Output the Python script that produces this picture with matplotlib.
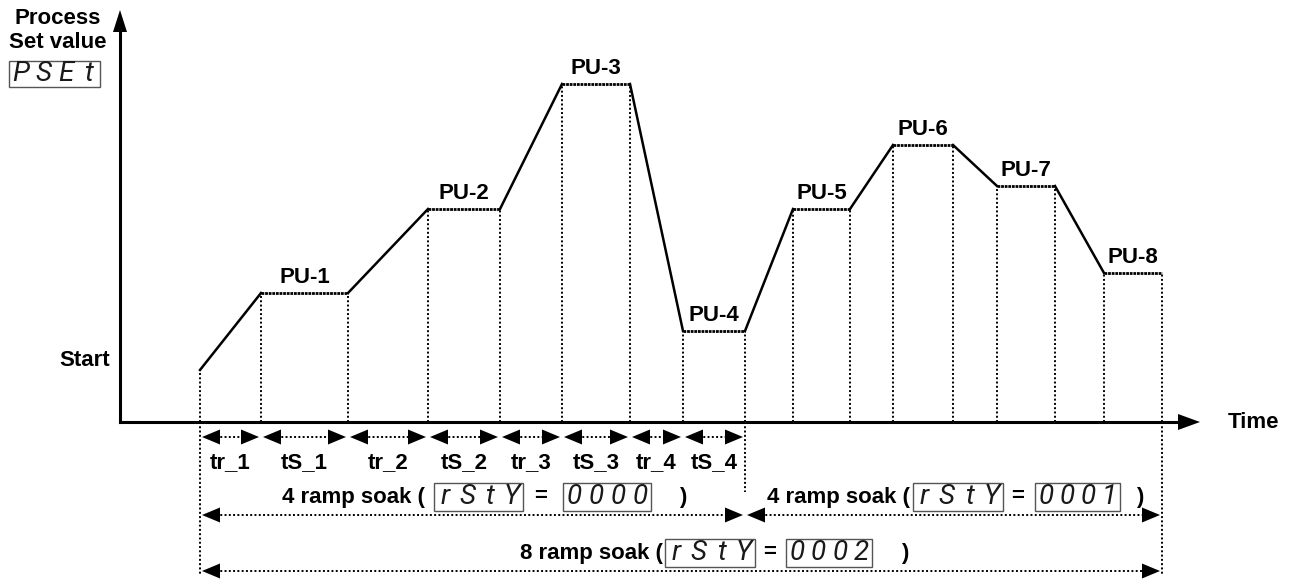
import matplotlib
matplotlib.use('Agg')
import matplotlib.pyplot as plt
from matplotlib.patches import Polygon, Rectangle

plt.rcParams['font.family'] = ['Liberation Sans', 'DejaVu Sans']

# ramp/soak profile, time and value measured from the axes corner
t_start = 80
v_start = 52
ramp_end = [141, 308, 442, 563, 673, 773, 877, 984]
soak_end = [228, 380, 510, 625, 730, 833, 935, 1042]
pu_value = [129, 213, 338, 91, 213, 277, 236, 149]
pu_labels = ['PU-1', 'PU-2', 'PU-3', 'PU-4', 'PU-5', 'PU-6', 'PU-7', 'PU-8']
seg_labels = ['tr_1', 'tS_1', 'tr_2', 'tS_2', 'tr_3', 'tS_3', 'tr_4', 'tS_4']
group_labels = ['4 ramp soak (', '4 ramp soak (', '8 ramp soak (']
rsty_codes = ['0000', '0001', '0002']

DOT = (0, (1, 1.2))
SEG = dict(family=['Roboto', 'DejaVu Sans'], style='italic',
           color='#1a1a1a', fontsize=20)
BOLD = dict(fontweight='bold', fontsize=16)

fig = plt.figure(figsize=(12.98, 5.8), dpi=100)
ax = fig.add_axes([0, 0, 1, 1])
ax.set_xlim(-120, 1178)
ax.set_ylim(-158, 422)
ax.axis('off')


def px(x):
    return x - 120


def py(y):
    return 422 - y


def head(x, y, dx, dy, length=18, half=7.5):
    # filled triangle, tip at (x, y), pointing along (dx, dy)
    bx, by = x - dx * length, y - dy * length
    pts = [(x, y), (bx - dy * half, by + dx * half), (bx + dy * half, by - dx * half)]
    ax.add_patch(Polygon(pts, closed=True, facecolor='k', edgecolor='none', zorder=3))


def dbl_arrow(x0, x1, y, gap=2):
    ax.plot([x0 + gap + 14, x1 - gap - 14], [y, y], color='k', lw=1.4, ls=DOT)
    head(x0 + gap, y, -1, 0)
    head(x1 - gap, y, 1, 0)


def display(x0, x1, yc, code, h=28):
    ax.add_patch(Rectangle((x0, yc - h / 2), x1 - x0, h, fill=False,
                           edgecolor='#555555', lw=1.0))
    w = (x1 - x0) / len(code)
    for i, ch in enumerate(code):
        ax.text(x0 + (i + 0.5) * w, yc, ch, ha='center', va='center', **SEG)


# axes
ax.plot([0, 1062], [0, 0], color='k', lw=2.2)
head(1080, 0, 1, 0, length=22, half=8)
ax.plot([0, 0], [0, 395], color='k', lw=2.2)
head(0, 412, 0, 1, length=22, half=7)

# profile
xs, ys = [t_start], [v_start]
for r, s, v in zip(ramp_end, soak_end, pu_value):
    ax.plot([xs[-1], r], [ys[-1], v], color='k', lw=1.8)
    ax.plot([r, s], [v, v], color='k', lw=2.0, ls=(0, (1, 0.3)))
    xs += [r, s]
    ys += [v, v]

# vertical guides
for x, y in zip(xs, ys):
    ax.plot([x, x], [0, y], color='k', lw=1.4, ls=DOT)
for x, y in [(t_start, -153), (soak_end[3], -70), (soak_end[7], -153)]:
    ax.plot([x, x], [0, y], color='k', lw=1.4, ls=DOT)

# PU labels
for r, s, v, lab in zip(ramp_end, soak_end, pu_value, pu_labels):
    ax.text((r + s) / 2, v + 5, lab, ha='center', va='bottom', **BOLD)

# segment arrows
bounds = [t_start]
for r, s in zip(ramp_end[:4], soak_end[:4]):
    bounds += [r, s]
for i, lab in enumerate(seg_labels):
    dbl_arrow(bounds[i], bounds[i + 1], py(437))
    ax.text((bounds[i] + bounds[i + 1]) / 2, py(463), lab, ha='center', va='center', **BOLD)

# ramp soak groups
dbl_arrow(t_start, soak_end[3], py(515))
dbl_arrow(soak_end[3], soak_end[7], py(515))
dbl_arrow(t_start, soak_end[7], py(571))

layout = [  # text right edge, box1, '=', box2, ')', y
    (425, (434, 523), 541, (563, 651), 683, 497),
    (910, (913, 1003), 1018, (1035, 1120), 1140, 497),
    (663, (665, 755), 770, (786, 872), 905, 553),
]
for lab, code, (tx, b1, eq, b2, par, yy) in zip(group_labels, rsty_codes, layout):
    ax.text(px(tx), py(yy), lab, ha='right', va='center', **BOLD)
    display(px(b1[0]), px(b1[1]), py(yy), 'rStY')
    ax.text(px(eq), py(yy), '=', ha='center', va='center', **BOLD)
    display(px(b2[0]), px(b2[1]), py(yy), code)
    ax.text(px(par), py(yy), ')', ha='center', va='center', **BOLD)

# axis titles
ax.text(px(58), py(18), 'Process', ha='center', va='center', **BOLD)
ax.text(px(58), py(42), 'Set value', ha='center', va='center', **BOLD)
display(px(9), px(100), py(74), 'PSEt', h=26)
ax.text(px(110), py(361), 'Start', ha='right', va='center', **BOLD)
ax.text(px(1228), py(422), 'Time', ha='left', va='center', **BOLD)

fig.savefig('out.png', dpi=100)
